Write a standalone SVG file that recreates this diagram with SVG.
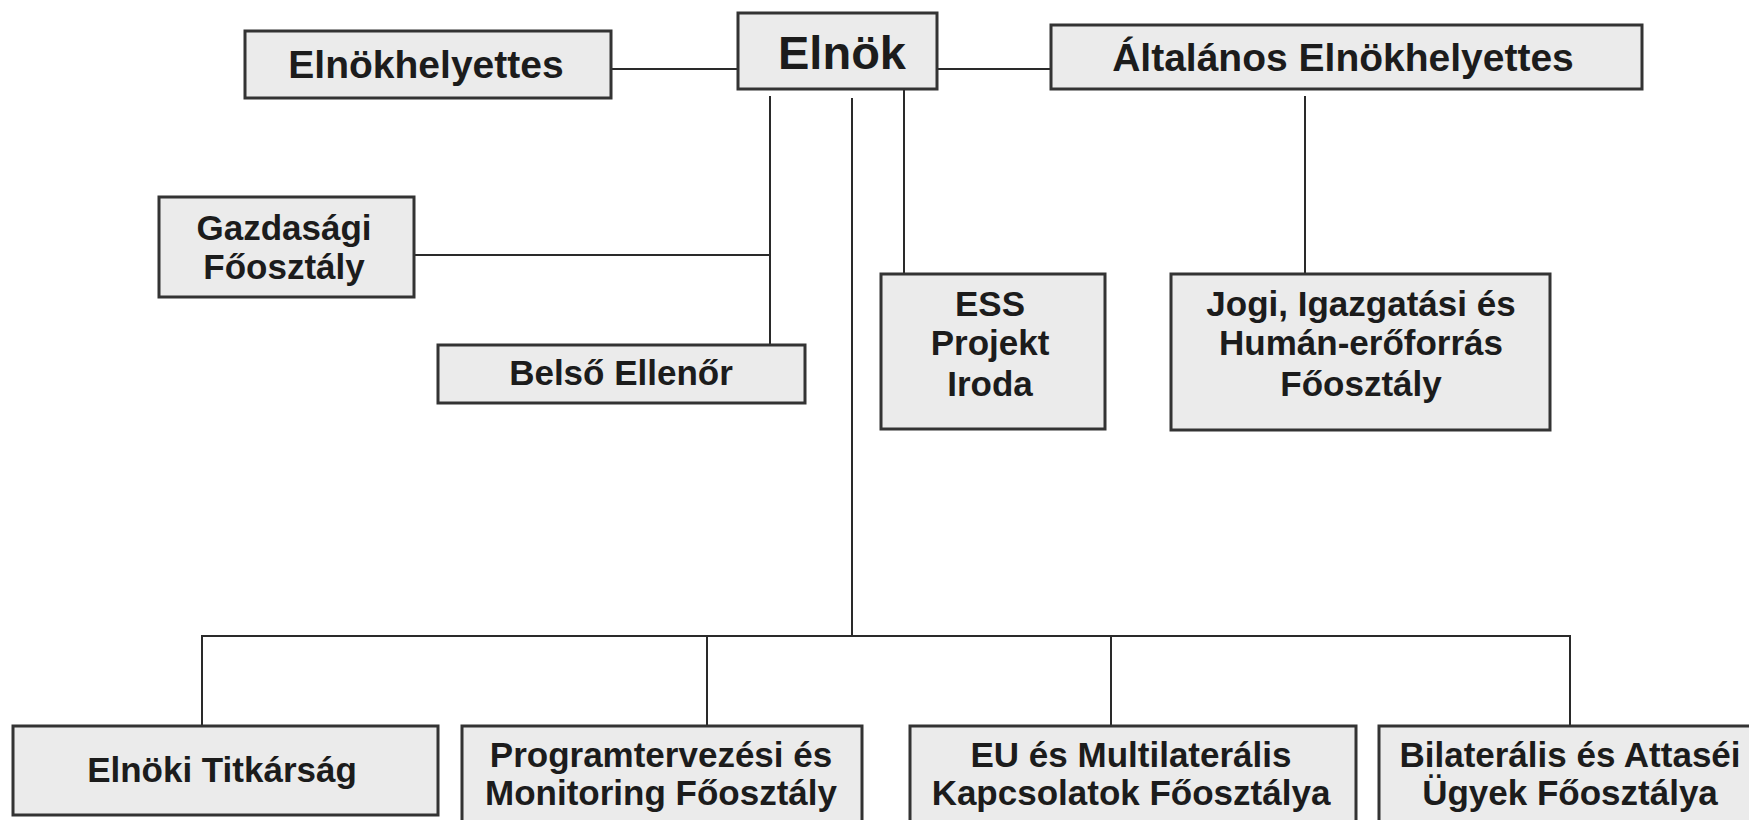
<svg xmlns="http://www.w3.org/2000/svg" width="1749" height="820" viewBox="0 0 1749 820">
<style>
.box{fill:#ebebeb;stroke:#333;stroke-width:3}
.t{font-family:"Liberation Sans",Arial,sans-serif;font-weight:bold;fill:#1c1c1c;text-anchor:middle;font-size:35px}
.big{font-size:39px}
.top{font-size:47px}
.c{stroke:#2a2a2a;stroke-width:2;fill:none}
</style>
<rect width="1749" height="820" fill="#fff"/>
<g id="connectors">
<line class="c" x1="611" y1="69" x2="738" y2="69"/>
<line class="c" x1="937" y1="69" x2="1051" y2="69"/>
<line class="c" x1="770" y1="96" x2="770" y2="345"/>
<line class="c" x1="414" y1="255" x2="770" y2="255"/>
<line class="c" x1="852" y1="98" x2="852" y2="636"/>
<line class="c" x1="904" y1="89" x2="904" y2="274"/>
<line class="c" x1="1305" y1="96" x2="1305" y2="274"/>
<polyline class="c" points="202,726 202,636 1570,636 1570,726"/>
<line class="c" x1="707" y1="636" x2="707" y2="726"/>
<line class="c" x1="1111" y1="636" x2="1111" y2="726"/>
</g>
<g id="elnok">
<rect class="box" x="738" y="13" width="199" height="76"/>
<text class="t top" x="842" y="69">Elnök</text>
</g>
<g id="elnokhelyettes">
<rect class="box" x="245" y="31" width="366" height="67"/>
<text class="t big" x="426" y="78">Elnökhelyettes</text>
</g>
<g id="altalanos">
<rect class="box" x="1051" y="25" width="591" height="64"/>
<text class="t big" x="1343" y="71">Általános Elnökhelyettes</text>
</g>
<g id="gazdasagi">
<rect class="box" x="159" y="197" width="255" height="100"/>
<text class="t" x="284" y="240">Gazdasági</text>
<text class="t" x="284" y="279">Főosztály</text>
</g>
<g id="belso">
<rect class="box" x="438" y="345" width="367" height="58"/>
<text class="t" x="621" y="385">Belső Ellenőr</text>
</g>
<g id="ess">
<rect class="box" x="881" y="274" width="224" height="155"/>
<text class="t" x="990" y="316">ESS</text>
<text class="t" x="990" y="355">Projekt</text>
<text class="t" x="990" y="396">Iroda</text>
</g>
<g id="jogi">
<rect class="box" x="1171" y="274" width="379" height="156"/>
<text class="t" x="1361" y="316">Jogi, Igazgatási és</text>
<text class="t" x="1361" y="355">Humán-erőforrás</text>
<text class="t" x="1361" y="396">Főosztály</text>
</g>
<g id="titkarsag">
<rect class="box" x="13" y="726" width="425" height="89"/>
<text class="t" x="222" y="782">Elnöki Titkárság</text>
</g>
<g id="program">
<rect class="box" x="462" y="726" width="400" height="100"/>
<text class="t" x="661" y="767">Programtervezési és</text>
<text class="t" x="661" y="805">Monitoring Főosztály</text>
</g>
<g id="eu">
<rect class="box" x="910" y="726" width="446" height="100"/>
<text class="t" x="1131" y="767">EU és Multilaterális</text>
<text class="t" x="1131" y="805">Kapcsolatok Főosztálya</text>
</g>
<g id="bilateralis">
<rect class="box" x="1379" y="726" width="384" height="100"/>
<text class="t" x="1570" y="767">Bilaterális és Attaséi</text>
<text class="t" x="1570" y="805">Ügyek Főosztálya</text>
</g>
</svg>
